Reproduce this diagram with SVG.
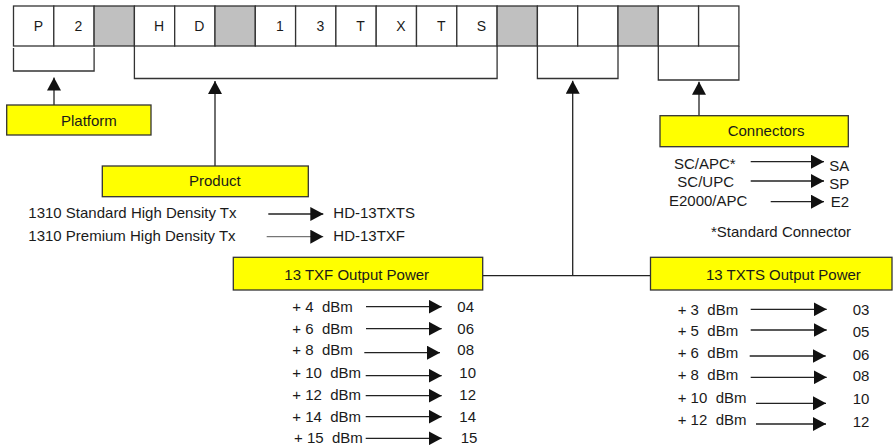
<svg xmlns="http://www.w3.org/2000/svg" width="895" height="447" viewBox="0 0 895 447">
<style>
text{font-family:"Liberation Sans",Arial,sans-serif;font-size:15px;fill:#1a1a1a;white-space:pre}
.cell{fill:#fff;stroke:#333;stroke-width:1.3}
.gray{fill:#c0c0c0;stroke:#333;stroke-width:1.3}
.code{font-size:14px}
.box{fill:#ffff00;stroke:#333;stroke-width:1.3}
.br{fill:none;stroke:#333;stroke-width:1.3}
.ln{fill:none;stroke:#222;stroke-width:1.3}
.arr{fill:none;stroke:#222;stroke-width:1.3;marker-end:url(#ah)}
.arr2{fill:none;stroke:#555;stroke-width:1;marker-end:url(#ah)}
</style>
<defs>
<marker id="ah" markerUnits="userSpaceOnUse" viewBox="0 0 13 14" markerWidth="13" markerHeight="14" refX="13" refY="7" orient="auto">
<path d="M0,0 L13,7 L0,14 Z" fill="#111"/>
</marker>
</defs>
<rect width="895" height="447" fill="#fff"/>

<g id="code-row">
<rect class="cell" x="13.5" y="6" width="40.3" height="40"/>
<rect class="cell" x="53.8" y="6" width="40.3" height="40"/>
<rect class="gray" x="94.1" y="6" width="40.3" height="40"/>
<rect class="cell" x="134.4" y="6" width="40.3" height="40"/>
<rect class="cell" x="174.7" y="6" width="40.3" height="40"/>
<rect class="gray" x="215" y="6" width="40.3" height="40"/>
<rect class="cell" x="255.3" y="6" width="40.3" height="40"/>
<rect class="cell" x="295.6" y="6" width="40.3" height="40"/>
<rect class="cell" x="335.9" y="6" width="40.3" height="40"/>
<rect class="cell" x="376.2" y="6" width="40.3" height="40"/>
<rect class="cell" x="416.5" y="6" width="40.3" height="40"/>
<rect class="cell" x="456.8" y="6" width="40.3" height="40"/>
<rect class="gray" x="497.1" y="6" width="40.3" height="40"/>
<rect class="cell" x="537.4" y="6" width="40.3" height="40"/>
<rect class="cell" x="577.7" y="6" width="40.3" height="40"/>
<rect class="gray" x="618" y="6" width="40.3" height="40"/>
<rect class="cell" x="658.3" y="6" width="40.3" height="40"/>
<rect class="cell" x="698.6" y="6" width="40.3" height="40"/>
<g text-anchor="middle">
<text class="code" x="38.5" y="31">P</text>
<text class="code" x="78.5" y="31">2</text>
<text class="code" x="159" y="31">H</text>
<text class="code" x="199.3" y="31">D</text>
<text class="code" x="280" y="31">1</text>
<text class="code" x="320.3" y="31">3</text>
<text class="code" x="360.6" y="31">T</text>
<text class="code" x="400.9" y="31">X</text>
<text class="code" x="441.2" y="31">T</text>
<text class="code" x="481.5" y="31">S</text>
</g>
</g>

<g id="brackets">
<path class="br" d="M13.5,48 V71 H94.1 V48"/>
<path class="br" d="M134.4,46 V78.5 H497.1 V46"/>
<path class="br" d="M537.4,46 V78.5 H618 V46"/>
<path class="br" d="M658.3,46 V80 H738.9 V46"/>
</g>

<g id="connectors">
<line class="arr" x1="54" y1="105" x2="54" y2="77.5"/>
<line class="arr" x1="215" y1="166" x2="215" y2="81"/>
<line class="arr" x1="572.7" y1="275.7" x2="572.7" y2="80.7"/>
<line class="arr" x1="699" y1="115.7" x2="699" y2="81.7"/>
<line class="ln" x1="482.7" y1="275.7" x2="650.5" y2="275.7"/>
</g>

<g id="platform">
<rect class="box" x="6.7" y="105" width="144.3" height="30"/>
<text x="61" y="125.7">Platform</text>
</g>

<g id="product">
<rect class="box" x="102.3" y="166" width="206" height="30.7"/>
<text x="189" y="186">Product</text>
<text x="28.3" y="218">1310 Standard High Density Tx</text>
<text x="28.3" y="241">1310 Premium High Density Tx</text>
<line class="arr" x1="268.3" y1="214" x2="323.3" y2="214"/>
<line class="arr2" x1="266.7" y1="236.7" x2="323.3" y2="236.7"/>
<text x="333.3" y="218.3">HD-13TXTS</text>
<text x="333.3" y="241">HD-13TXF</text>
</g>

<g id="connectors-node">
<rect class="box" x="660" y="115.7" width="188.3" height="31"/>
<text x="727.7" y="136">Connectors</text>
<text x="674" y="169">SC/APC*</text>
<text x="677.3" y="187.3">SC/UPC</text>
<text x="669" y="206">E2000/APC</text>
<line class="arr" x1="750.7" y1="161.7" x2="824" y2="161.7"/>
<line class="arr" x1="750.7" y1="181" x2="824" y2="181"/>
<line class="arr" x1="770.7" y1="201.7" x2="824" y2="201.7"/>
<text x="829.3" y="171">SA</text>
<text x="829.3" y="189.3">SP</text>
<text x="830.7" y="206.7">E2</text>
<text x="711" y="237.3">*Standard Connector</text>
</g>

<g id="txf-power">
<rect class="box" x="233.3" y="257.3" width="249.4" height="32.7"/>
<text x="284.3" y="280">13 TXF Output Power</text>
<text x="292.3" y="312.3">+ 4  dBm</text>
<text x="292.3" y="334">+ 6  dBm</text>
<text x="292.3" y="355.3">+ 8  dBm</text>
<text x="292.3" y="377.7">+ 10  dBm</text>
<text x="292.3" y="400">+ 12  dBm</text>
<text x="292.3" y="421.7">+ 14  dBm</text>
<text x="294" y="442.7">+ 15  dBm</text>
<line class="arr" x1="366" y1="306.7" x2="441.7" y2="306.7"/>
<line class="arr" x1="366" y1="328.7" x2="441.7" y2="328.7"/>
<line class="arr" x1="364.3" y1="352.7" x2="440" y2="352.7"/>
<line class="arr" x1="365.7" y1="375.7" x2="441.7" y2="375.7"/>
<line class="arr" x1="365.7" y1="395.7" x2="441.7" y2="395.7"/>
<line class="arr" x1="365.7" y1="416.7" x2="441.7" y2="416.7"/>
<line class="arr" x1="365.7" y1="438.3" x2="441.7" y2="438.3"/>
<text x="457.3" y="312.3">04</text>
<text x="457.3" y="334">06</text>
<text x="457.3" y="355.3">08</text>
<text x="459.3" y="377.7">10</text>
<text x="459.3" y="400">12</text>
<text x="459.3" y="421.7">14</text>
<text x="460.7" y="442.7">15</text>
</g>

<g id="txts-power">
<rect class="box" x="650.5" y="257.3" width="241.5" height="32.7"/>
<text x="706" y="280">13 TXTS Output Power</text>
<text x="677.7" y="315">+ 3  dBm</text>
<text x="677.7" y="336">+ 5  dBm</text>
<text x="677.7" y="357.7">+ 6  dBm</text>
<text x="677.7" y="380">+ 8  dBm</text>
<text x="677.7" y="402.7">+ 10  dBm</text>
<text x="677.7" y="425">+ 12  dBm</text>
<line class="arr" x1="750.7" y1="309.3" x2="826.7" y2="309.3"/>
<line class="arr" x1="750.7" y1="330" x2="826.7" y2="330"/>
<line class="arr" x1="749.7" y1="356" x2="825.7" y2="356"/>
<line class="arr" x1="750.7" y1="377.3" x2="826.7" y2="377.3"/>
<line class="arr" x1="756" y1="403.3" x2="826" y2="403.3"/>
<line class="arr" x1="756" y1="424" x2="826" y2="424"/>
<text x="852.7" y="315">03</text>
<text x="852.7" y="337">05</text>
<text x="852.7" y="360">06</text>
<text x="852.7" y="381">08</text>
<text x="852.7" y="404">10</text>
<text x="852.7" y="426.7">12</text>
</g>
</svg>
